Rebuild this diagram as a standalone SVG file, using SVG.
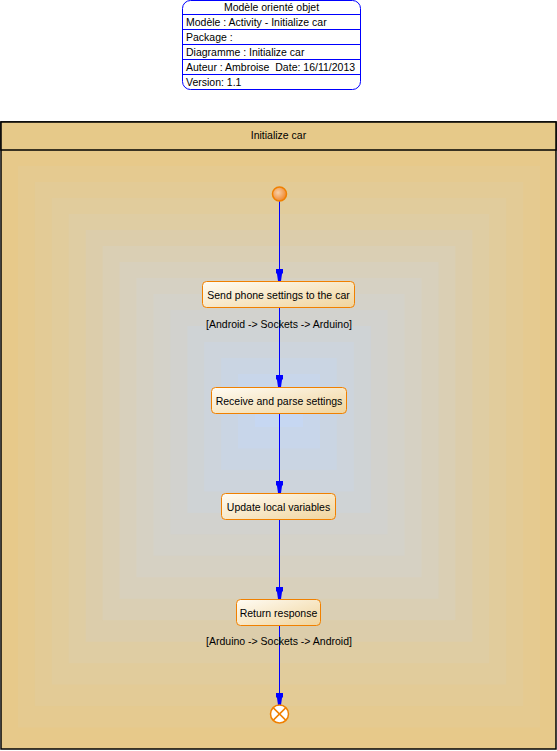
<svg xmlns="http://www.w3.org/2000/svg" width="557" height="751" viewBox="0 0 557 751">
<defs>
<linearGradient id="act" x1="0" y1="0" x2="1" y2="1">
<stop offset="0" stop-color="#fffcf4"/>
<stop offset="1" stop-color="#f0d49c"/>
</linearGradient>
<radialGradient id="init" cx="0.4" cy="0.4" r="0.6">
<stop offset="0" stop-color="#f8d0a8"/>
<stop offset="1" stop-color="#f08830"/>
</radialGradient>
<marker id="arr" viewBox="0 0 12 8" refX="12" refY="4" markerWidth="12" markerHeight="8" markerUnits="userSpaceOnUse" orient="auto">
<path d="M0,0.5 L4,0.5 L5,1.5 L12,2.5 L12,5.5 L5,6.5 L4,7.5 L0,7.5 Z" fill="#0000ff"/>
</marker>
<style>
text{font-family:"Liberation Sans",Arial,sans-serif;font-size:10.5px;fill:#000;white-space:pre}
.act{fill:url(#act);stroke:#f08000;stroke-width:1}
</style>
</defs>
<g id="titlebox">
<rect x="182.5" y="0.5" width="178" height="89" rx="8" ry="8" fill="#fff" stroke="#0000ff"/>
<line x1="182.5" y1="14.5" x2="360.5" y2="14.5" stroke="#0000ff"/>
<line x1="182.5" y1="29.5" x2="360.5" y2="29.5" stroke="#0000ff"/>
<line x1="182.5" y1="44.5" x2="360.5" y2="44.5" stroke="#0000ff"/>
<line x1="182.5" y1="59.5" x2="360.5" y2="59.5" stroke="#0000ff"/>
<line x1="182.5" y1="74.5" x2="360.5" y2="74.5" stroke="#0000ff"/>
<text x="271.5" y="11" text-anchor="middle">Modèle orienté objet</text>
<text x="186" y="25.5">Modèle : Activity - Initialize car</text>
<text x="186" y="40.5">Package :</text>
<text x="186" y="55.5">Diagramme : Initialize car</text>
<text x="186" y="70.5" xml:space="preserve">Auteur : Ambroise  Date: 16/11/2013</text>
<text x="186" y="85.5">Version: 1.1</text>
</g>
<g id="partition">
<rect x="1" y="122" width="555" height="627" fill="#e7c98a"/>
<g id="shading">
<rect x="17.9" y="166" width="522.1" height="561.5" fill="#e5ca90"/>
<rect x="34.9" y="182" width="488.3" height="524.1" fill="#e3cb96"/>
<rect x="51.8" y="198" width="454.4" height="486.6" fill="#e1cc9c"/>
<rect x="68.7" y="214" width="420.5" height="449.1" fill="#dfcda3"/>
<rect x="85.7" y="230" width="386.7" height="411.7" fill="#dccdab"/>
<rect x="102.6" y="246" width="352.8" height="374.2" fill="#dacfb4"/>
<rect x="119.5" y="262" width="319.1" height="336.7" fill="#d8d0bc"/>
<rect x="136.5" y="278" width="285" height="299.3" fill="#d6d1c3"/>
<rect x="153.4" y="294" width="251.2" height="261.8" fill="#d4d2c9"/>
<rect x="170.3" y="310" width="217.3" height="224.3" fill="#d2d2ce"/>
<rect x="187.3" y="326" width="183.5" height="186.9" fill="#cfd3d5"/>
<rect x="204.2" y="342" width="149.6" height="149.4" fill="#cdd4dc"/>
<rect x="221.1" y="358" width="115.7" height="111.9" fill="#cad5e3"/>
<rect x="238.1" y="374" width="81.9" height="74.5" fill="#c8d6ea"/>
<rect x="255" y="390" width="48" height="37" fill="#c6d7f2"/>
</g>
<rect x="1" y="122" width="555" height="627" fill="none" stroke="#000" stroke-width="1.5"/>
<rect x="1" y="122" width="555" height="28" fill="#e6c989" stroke="#000" stroke-width="1.5"/>
<text x="278.5" y="139" text-anchor="middle" fill="#200000">Initialize car</text>
</g>
<g id="connectors" stroke="#0000ff" stroke-width="1" fill="none">
<line x1="279.5" y1="201" x2="279.5" y2="281" stroke="#0000ff" marker-end="url(#arr)"/>
<line x1="279.5" y1="308" x2="279.5" y2="387" stroke="#0000ff" marker-end="url(#arr)"/>
<line x1="279.5" y1="413" x2="279.5" y2="493" stroke="#0000ff" marker-end="url(#arr)"/>
<line x1="279.5" y1="520" x2="279.5" y2="599" stroke="#0000ff" marker-end="url(#arr)"/>
<line x1="279.5" y1="626" x2="279.5" y2="705" stroke="#0000ff" marker-end="url(#arr)"/>
<text x="279" y="327.5" text-anchor="middle" stroke="none">[Android -&gt; Sockets -&gt; Arduino]</text>
<text x="279" y="644.5" text-anchor="middle" stroke="none">[Arduino -&gt; Sockets -&gt; Android]</text>
</g>
<g id="start">
<circle cx="279.5" cy="194" r="7" fill="url(#init)" stroke="#f08000" stroke-width="1.5"/>
</g>
<g id="send">
<rect class="act" x="202.5" y="281.5" width="152" height="26" rx="4"/>
<text x="278.5" y="298.5" text-anchor="middle">Send phone settings to the car</text>
</g>
<g id="receive">
<rect class="act" x="211.5" y="387.5" width="135" height="26" rx="4"/>
<text x="279" y="404.5" text-anchor="middle">Receive and parse settings</text>
</g>
<g id="update">
<rect class="act" x="221.5" y="493.5" width="114" height="26" rx="4"/>
<text x="278.5" y="510.5" text-anchor="middle">Update local variables</text>
</g>
<g id="return">
<rect class="act" x="236.5" y="599.5" width="84" height="26" rx="4"/>
<text x="278.5" y="616.5" text-anchor="middle">Return response</text>
</g>
<g id="end">
<circle cx="279.5" cy="714" r="9" fill="#fff" stroke="#f08000" stroke-width="1.5"/>
<line x1="273.1" y1="707.6" x2="285.9" y2="720.4" stroke="#f08000" stroke-width="1.5"/>
<line x1="285.9" y1="707.6" x2="273.1" y2="720.4" stroke="#f08000" stroke-width="1.5"/>
</g>
</svg>
